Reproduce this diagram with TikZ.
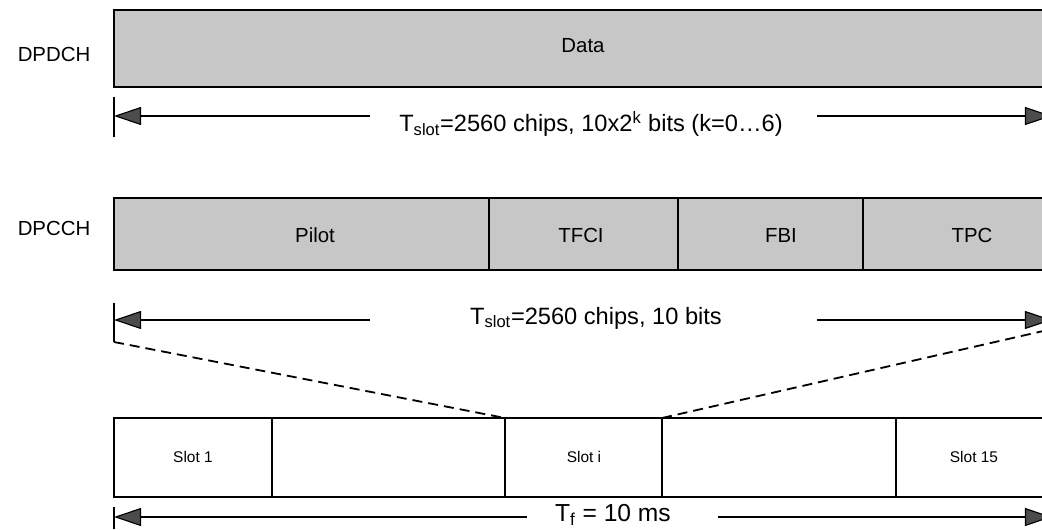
\documentclass[tikz,border=0pt]{standalone}
\usepackage{fontspec}
\setmainfont{Liberation Sans}
\usetikzlibrary{arrows.meta}

\begin{document}
\begin{tikzpicture}[x=0.025cm,y=-0.025cm,
  box/.style={draw=black,line width=0.8pt,fill=black!22},
  slotbox/.style={draw=black,line width=0.8pt,fill=white},
  sep/.style={line width=0.8pt},
  chan/.style={font=\fontsize{14.5}{17}\selectfont},
  field/.style={font=\fontsize{14.5}{17}\selectfont},
  slotlbl/.style={font=\fontsize{11}{13}\selectfont},
  dimlbl/.style={font=\fontsize{16.8}{20}\selectfont},
  dim/.style={line width=0.8pt,-{Triangle[length=0.675cm,width=0.45cm,fill=black!70]}},
  zoomline/.style={dash pattern=on 0.25cm off 0.15cm,line width=1.3pt}]
\clip (0,0) rectangle (1042,529);
% channel names
\node[chan] (dpdch) at (54,54) {DPDCH};
\node[chan] (dpcch) at (54,228) {DPCCH};
% DPDCH slot
\draw[box] (114,10) rectangle (1052,87);
\node[field] (data) at (583,46) {Data};
% DPCCH slot with its fields
\draw[box] (114,198) rectangle (1052,270);
\draw[sep] (489,198) -- (489,270);
\draw[sep] (678,198) -- (678,270);
\draw[sep] (863,198) -- (863,270);
\node[field] (pilot) at (315,235) {Pilot};
\node[field] (tfci) at (581,235) {TFCI};
\node[field] (fbi) at (781,235) {FBI};
\node[field] (tpc) at (972,235) {TPC};
% slot length, DPDCH
\draw[sep] (114,97) -- (114,137);
\coordinate (a1l) at (114,116);
\coordinate (a1a) at (370,116);
\coordinate (a1b) at (817,116);
\coordinate (a1r) at (1052,116);
\node[dimlbl] (a1txt) at (591,124) {T\textsubscript{slot}=2560 chips, 10x2\textsuperscript{k} bits (k=0\ldots6)};
\draw[dim] (a1a) -- (a1l);
\draw[dim] (a1b) -- (a1r);
% slot length, DPCCH
\draw[sep] (114,303) -- (114,342);
\coordinate (a2l) at (114,320);
\coordinate (a2a) at (370,320);
\coordinate (a2b) at (817,320);
\coordinate (a2r) at (1052,320);
\node[dimlbl] (a2txt) at (596,318) {T\textsubscript{slot}=2560 chips, 10 bits};
\draw[dim] (a2a) -- (a2l);
\draw[dim] (a2b) -- (a2r);
% frame of 15 slots
\draw[slotbox] (114,418) rectangle (1052,497);
\draw[sep] (272,418) -- (272,497);
\draw[sep] (505,418) -- (505,497);
\draw[sep] (662,418) -- (662,497);
\draw[sep] (896,418) -- (896,497);
\node[slotlbl] (s1) at (193,457) {Slot 1};
\node[slotlbl] (si) at (584,457) {Slot i};
\node[slotlbl] (s15) at (974,457) {Slot 15};
% zoom lines
\coordinate (zl) at (114,342);
\coordinate (zr) at (1052,329);
\coordinate (si1) at (505,418);
\coordinate (si2) at (662,418);
\draw[zoomline] (zl) -- (si1);
\draw[zoomline] (si2) -- (zr);
% frame length
\draw[sep] (114,507) -- (114,529);
\coordinate (a3l) at (114,517);
\coordinate (a3a) at (527,517);
\coordinate (a3b) at (718,517);
\coordinate (a3r) at (1052,517);
\node[dimlbl,font=\fontsize{17.5}{20}\selectfont] (a3txt) at (613,515) {T\textsubscript{f} = 10 ms};
\draw[dim] (a3a) -- (a3l);
\draw[dim] (a3b) -- (a3r);
\end{tikzpicture}
\end{document}
